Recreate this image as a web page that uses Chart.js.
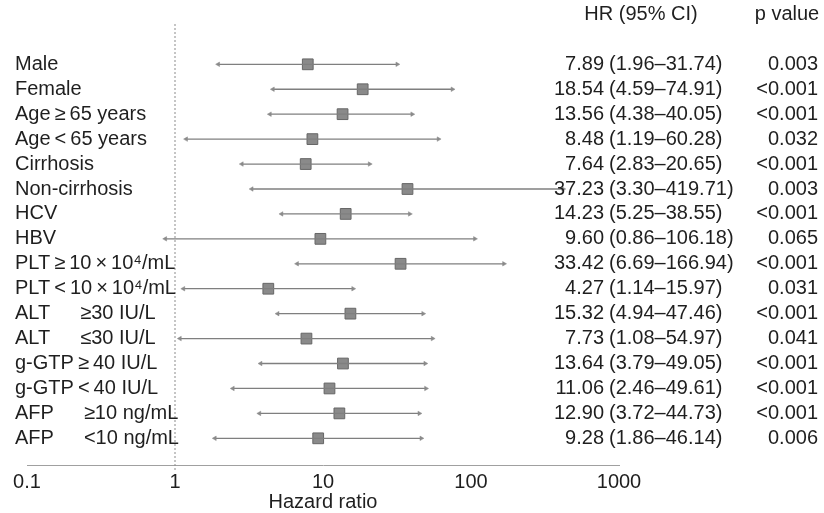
<!DOCTYPE html>
<html>
<head>
<meta charset="utf-8">
<script src="https://cdn.jsdelivr.net/npm/chart.js@4.4.0/dist/chart.umd.min.js"></script>
<style>
  html, body { margin: 0; padding: 0; background: #fff; }
  #wrap { width: 824px; height: 513px; position: relative; }
</style>
</head>
<body>
<div id="wrap"><canvas id="forest"></canvas></div>
<script>
// subgroups, top to bottom
const labels = [
    'Male', 'Female', 'Age\u2009\u2265\u200965 years', 'Age\u2009<\u200965 years',
    'Cirrhosis', 'Non-cirrhosis', 'HCV', 'HBV',
    'PLT\u2009\u2265\u200910\u2009\u00d7\u200910\u2074/mL', 'PLT\u2009<\u200910\u2009\u00d7\u200910\u2074/mL',
    'ALT\u2003\u2002\u226530 IU/L', 'ALT\u2003\u2002\u226430 IU/L',
    'g-GTP\u2009\u2265\u200940 IU/L', 'g-GTP\u2009<\u200940 IU/L',
    'AFP\u2003\u2002\u226510 ng/mL', 'AFP\u2003\u2002<10 ng/mL'
];
const hr     = [7.89, 18.54, 13.56, 8.48, 7.64, 37.23, 14.23, 9.60, 33.42, 4.27, 15.32, 7.73, 13.64, 11.06, 12.90, 9.28];
const ciLow  = [1.96, 4.59, 4.38, 1.19, 2.83, 3.30, 5.25, 0.86, 6.69, 1.14, 4.94, 1.08, 3.79, 2.46, 3.72, 1.86];
const ciHigh = [31.74, 74.91, 40.05, 60.28, 20.65, 419.71, 38.55, 106.18, 166.94, 15.97, 47.46, 54.97, 49.05, 49.61, 44.73, 46.14];
const pValues = ['0.003', '<0.001', '<0.001', '0.032', '<0.001', '0.003', '<0.001', '0.065',
                 '<0.001', '0.031', '<0.001', '0.041', '<0.001', '<0.001', '<0.001', '0.006'];
const xTicks = [0.1, 1, 10, 100, 1000];

const FONT = '"Liberation Sans", Arial, Helvetica, sans-serif';
const TEXT = '#1f1f1f';
const LINE = '#7f7f7f';

// one dataset per confidence interval
const ciSets = ciLow.map(function(lo, i) {
    return {
        data: [{x: lo, y: i}, {x: ciHigh[i], y: i}],
        showLine: true,
        borderColor: LINE,
        borderWidth: 1.3,
        pointStyle: 'triangle',
        pointRotation: [-90, 90],
        pointRadius: 2.6,
        pointBackgroundColor: '#8a8a8a',
        pointBorderColor: '#8a8a8a',
        pointBorderWidth: 0.5
    };
});

const hrSet = {
    data: hr.map(function(v, i) { return {x: v, y: i}; }),
    pointStyle: 'rect',
    pointRadius: 7.6,
    pointBackgroundColor: '#8a8a8a',
    pointBorderColor: '#666666',
    pointBorderWidth: 1
};

// text columns + reference line at HR = 1
const forestText = {
    id: 'forestText',
    beforeDatasetsDraw: function(chart) {
        const ctx = chart.ctx;
        const px = chart.scales.x.getPixelForValue(1);
        ctx.save();
        ctx.strokeStyle = '#8c8c8c';
        ctx.lineWidth = 1;
        ctx.setLineDash([2, 2]);
        ctx.beginPath();
        ctx.moveTo(px, chart.chartArea.top);
        ctx.lineTo(px, chart.chartArea.bottom + 6);
        ctx.stroke();
        ctx.restore();
    },
    afterDraw: function(chart) {
        const ctx = chart.ctx;
        const y = chart.scales.y;
        ctx.save();
        ctx.fillStyle = TEXT;
        ctx.textBaseline = 'middle';
        ctx.font = '20px ' + FONT;

        ctx.textAlign = 'center';
        ctx.fillText('HR (95% CI)', 641, y.getPixelForValue(-2));
        ctx.fillText('p value', 787, y.getPixelForValue(-2));

        labels.forEach(function(lab, i) {
            const py = y.getPixelForValue(i);
            ctx.textAlign = 'left';
            ctx.fillText(lab, 15, py);
            ctx.textAlign = 'right';
            ctx.fillText(hr[i].toFixed(2), 604, py);
            ctx.textAlign = 'left';
            ctx.fillText('(' + ciLow[i].toFixed(2) + '\u2013' + ciHigh[i].toFixed(2) + ')', 609, py);
            ctx.textAlign = 'right';
            ctx.fillText(pValues[i], 818, py);
        });
        ctx.restore();
    }
};

new Chart(document.getElementById('forest'), {
    type: 'scatter',
    data: { datasets: ciSets.concat([hrSet]) },
    plugins: [forestText],
    options: {
        responsive: true,
        maintainAspectRatio: false,
        animation: false,
        layout: { autoPadding: false, padding: { left: 27, right: 205, top: 24, bottom: 0 } },
        plugins: { legend: { display: false }, tooltip: { enabled: false } },
        scales: {
            x: {
                type: 'logarithmic',
                min: 0.1,
                max: 1000,
                afterBuildTicks: function(scale) {
                    scale.ticks = xTicks.map(function(v) { return {value: v}; });
                },
                afterFit: function(scale) { scale.height = 48; },
                grid: { display: false, drawTicks: false },
                border: { display: true, color: '#a0a0a0', width: 1, dash: [12, 3] },
                ticks: {
                    autoSkip: false,
                    maxRotation: 0,
                    padding: 5,
                    color: TEXT,
                    font: { family: FONT, size: 20 },
                    callback: function(value) { return String(value); }
                },
                title: {
                    display: true,
                    text: 'Hazard ratio',
                    color: TEXT,
                    font: { family: FONT, size: 20, lineHeight: 0.9 },
                    padding: { top: 0, bottom: 2 }
                }
            },
            y: {
                type: 'linear',
                reverse: true,
                min: -1.617,
                max: 16.07,
                display: false
            }
        }
    }
});
</script>
</body>
</html>
